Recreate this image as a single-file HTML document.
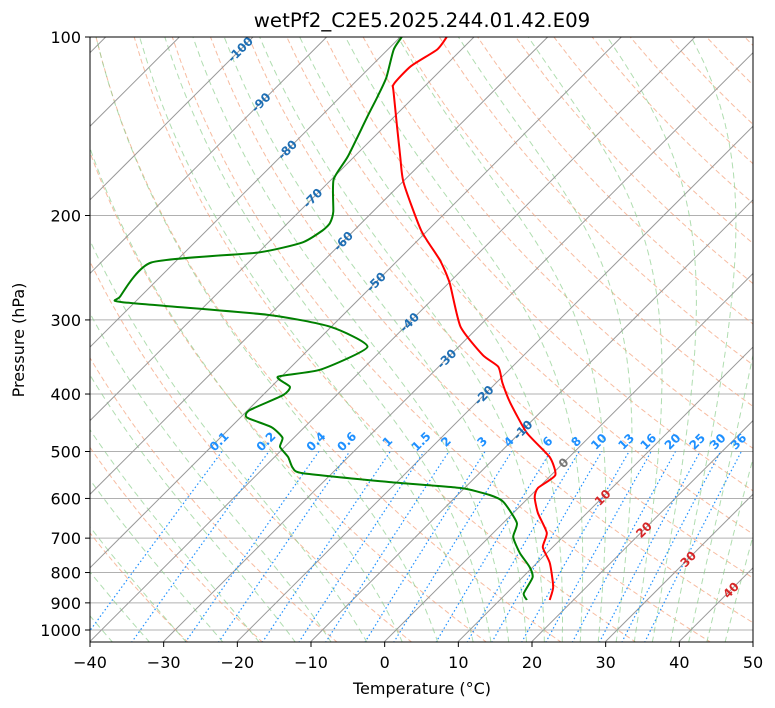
<!DOCTYPE html>
<html><head><meta charset="utf-8"><style>
body{margin:0;background:#fff;}
svg{display:block;font-family:"DejaVu Sans","Liberation Sans",sans-serif;}
</style></head><body>
<svg id="chart" width="775" height="708" viewBox="0 0 775 708" xmlns="http://www.w3.org/2000/svg">
<defs><clipPath id="plotclip"><rect x="90" y="37" width="663" height="605"/></clipPath></defs>
<rect x="0" y="0" width="775" height="708" fill="#fff"/>
<text x="422" y="27" text-anchor="middle" font-size="19.8">wetPf2_C2E5.2025.244.01.42.E09</text>
<g id="bg" clip-path="url(#plotclip)"></g>
<g id="series" clip-path="url(#plotclip)"></g>
<g id="labels" clip-path="url(#plotclip)"></g>
<rect x="90" y="37" width="663" height="605" fill="none" stroke="#000" stroke-width="1"/>
<g id="axes"></g>
<text x="422" y="694" text-anchor="middle" font-size="16">Temperature (°C)</text>
<text x="24" y="340" text-anchor="middle" font-size="16" transform="rotate(-90 24 340)">Pressure (hPa)</text>
</svg>
<script>
const tempPressure=[890,846,771,725,686,635,597,576,548,511,465,414,383,360,344,308,260,238,212,176,159,124,120,112,105,100];
const tempValues=[16.7,15.4,11.7,8.6,7.2,3.3,0.7,-0.1,0.5,-2.7,-9.1,-15.4,-19.2,-21.9,-25.6,-32.5,-39.9,-44.3,-50.9,-59.8,-63.8,-73.4,-74.5,-74.6,-73.3,-73.7];
const dewPressure=[890,868,815,783,742,697,660,608,592,576,563,544,533,511,491,474,455,438,426,402,389,374,364,333,308,294,280,274,240,231,222,212,206,197,174,159,136,126,117,105,100];
const dewValues=[13.6,12.3,11.3,9.5,6.3,3.2,1.8,-2.9,-5.7,-10.7,-21.0,-34.0,-36.1,-38.2,-40.7,-41.6,-44.5,-49.2,-49.8,-47.3,-47.5,-50.5,-45.7,-42.4,-50.2,-60.4,-81.7,-82.8,-83.2,-70.1,-65.4,-64.3,-64.3,-65.4,-69.7,-70.9,-73.7,-75.0,-76.4,-79.2,-79.8];
const xTicks=[-40,-30,-20,-10,0,10,20,30,40,50];
const yTicks=[100,200,300,400,500,600,700,800,900,1000];
const mixingRatios=[0.1,0.2,0.4,0.6,1,1.5,2,3,4,6,8,10,13,16,20,25,30,36];
const isoLabelValues=[-100,-90,-80,-70,-60,-50,-40,-30,-20,-10,0,10,20,30,40];
const isoLabelPressures=[105,129,155,187,221,259,303,349,402,460,523,598,678,760,857];

const NS='http://www.w3.org/2000/svg';
const L=90,R=753,T0=37,B=642,XS=(R-L)/90;
function yOf(p){return T0+593*Math.log10(p/100);}
function xOf(t,p){return L+XS*(t+40)+(B-yOf(p));}
function mk(tag,attrs,parent){const e=document.createElementNS(NS,tag);for(const k in attrs)e.setAttribute(k,attrs[k]);parent.appendChild(e);return e;}
const bg=document.getElementById('bg'),ser=document.getElementById('series'),lab=document.getElementById('labels'),ax=document.getElementById('axes');
const pGrid=[];for(let p=1050;p>=100;p-=10)pGrid.push(p);
function pathFrom(ps,ts){return ps.map((p,i)=>(i?'L':'M')+xOf(ts[i],p).toFixed(1)+' '+yOf(p).toFixed(1)).join(' ');}
function smoothPath(ps,ts){const pts=ps.map((p,i)=>[xOf(ts[i],p),yOf(p)]);let d='M'+pts[0][0].toFixed(1)+' '+pts[0][1].toFixed(1);const k=10;
for(let i=0;i<pts.length-1;i++){const p0=pts[Math.max(0,i-1)],p1=pts[i],p2=pts[i+1],p3=pts[Math.min(pts.length-1,i+2)];
const c1=[p1[0]+(p2[0]-p0[0])/k,p1[1]+(p2[1]-p0[1])/k],c2=[p2[0]-(p3[0]-p1[0])/k,p2[1]-(p3[1]-p1[1])/k];
d+=` C${c1[0].toFixed(1)} ${c1[1].toFixed(1)} ${c2[0].toFixed(1)} ${c2[1].toFixed(1)} ${p2[0].toFixed(1)} ${p2[1].toFixed(1)}`;}return d;}
yTicks.forEach(p=>{const l=mk('line',{x1:L,x2:R,y1:yOf(p),y2:yOf(p),stroke:'#b0b0b0','stroke-width':1},bg);

});
for(let th=-30;th<=200;th+=10){const ts=pGrid.map(p=>(th+273.15)*Math.pow(p/1000,0.2857)-273.15);
const e=mk('path',{d:pathFrom(pGrid,ts),fill:'none',stroke:'#f4a582','stroke-width':1,'stroke-dasharray':'5 3',opacity:0.75},bg);

}
function es(t){return 6.112*Math.exp(17.67*t/(t+243.5));}
function moistRate(p,tK){const t=tK-273.15;const rs=0.622*es(t)/(p-es(t));const Rd=287,Lv=2.5e6,Cp=1005;
return (Rd*tK+Lv*rs)/(Cp+Lv*Lv*rs*0.622/(Rd*tK*tK))/p;}
const moistStarts=[];for(let t=-50;t<=10;t+=5)moistStarts.push(t);for(let t=12.5;t<=45;t+=2.5)moistStarts.push(t);
moistStarts.forEach(t0=>{const ps=[],ts=[];let tK=t0+273.15;
for(let q=1000;q<1050;q+=1){tK+=moistRate(q,tK);}
for(let p=1050;p>=100;p-=1){if(p%10===0){ps.push(p);ts.push(tK-273.15);}tK-=moistRate(p,tK);}
const e=mk('path',{d:pathFrom(ps,ts),fill:'none',stroke:'#8fcf8f','stroke-width':1,'stroke-dasharray':'6 4',opacity:0.7},bg);

});
for(let t=-130;t<=50;t+=10){const e=mk('line',{x1:xOf(t,1050),y1:B,x2:xOf(t,100),y2:T0,stroke:'#999','stroke-width':1},bg);

}
const mixP=[];for(let p=1050;p>=500;p-=10)mixP.push(p);
mixingRatios.forEach(w=>{const ts=mixP.map(p=>{const e=w*p/(622+w);const a=Math.log(e/6.112);return 243.5*a/(17.67-a);});
const e=mk('path',{d:pathFrom(mixP,ts),fill:'none',stroke:'#1e90ff','stroke-width':1.2,'stroke-dasharray':'1.5 2.5'},bg);


const x=xOf(ts[ts.length-1],500),y=yOf(500)-7;
const tx=mk('text',{x:x,y:y,'text-anchor':'middle','font-size':12,'font-weight':'bold',fill:'#1e90ff',transform:`rotate(-45 ${x} ${y})`},lab);
tx.textContent=String(w);

});
const tp=mk('path',{d:smoothPath(tempPressure,tempValues),fill:'none',stroke:'#ff0000','stroke-width':2,'stroke-linejoin':'round'},ser);


const dp=mk('path',{d:smoothPath(dewPressure,dewValues),fill:'none',stroke:'#008000','stroke-width':2,'stroke-linejoin':'round'},ser);


isoLabelValues.forEach((t,i)=>{const p=isoLabelPressures[i];const x=xOf(t,p),y=yOf(p)+4;
const c=t<0?'#1f6fb4':(t===0?'#777':'#d62728');
const tx=mk('text',{x:x,y:y,'text-anchor':'middle','font-size':12,'font-weight':'bold',fill:c,transform:`rotate(-45 ${x} ${y-4})`},lab);
tx.textContent=String(t);

});
xTicks.forEach(t=>{const x=L+XS*(t+40);mk('line',{x1:x,x2:x,y1:B,y2:B+5,stroke:'#000'},ax);
const tx=mk('text',{x:x,y:B+26,'text-anchor':'middle','font-size':16},ax);tx.textContent=t<0?'\u2212'+(-t):String(t);

});
yTicks.forEach(p=>{const y=yOf(p);mk('line',{x1:L-5,x2:L,y1:y,y2:y,stroke:'#000'},ax);
const tx=mk('text',{x:L-9,y:y+6,'text-anchor':'end','font-size':16},ax);tx.textContent=String(p);

});
</script>
</body></html>
